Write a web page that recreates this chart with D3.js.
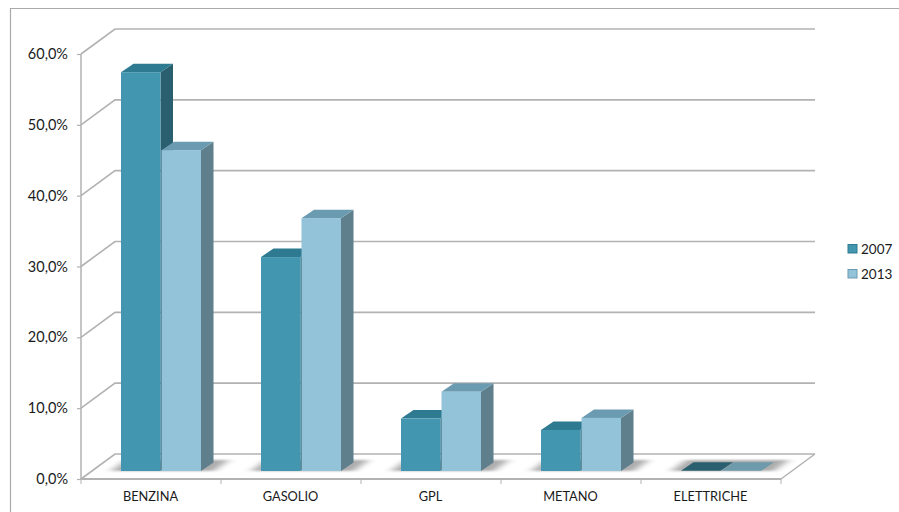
<!DOCTYPE html>
<html><head><meta charset="utf-8">
<script src="https://cdn.jsdelivr.net/npm/d3@7"></script>
<style>html,body{margin:0;padding:0;background:#fff}svg{display:block}text{font-family:Lato,"Noto Sans",sans-serif;fill:#1a1a1a}</style>
</head><body><svg id="c" width="899" height="512"></svg>
<script>
const categories=["BENZINA","GASOLIO","GPL","METANO","ELETTRICHE"];
const seriesNames=["2007","2013"];
const v2007=[56.3,30.2,7.4,5.8,0.05];
const v2013=[45.3,35.7,11.2,7.5,0.05];
const tickLabels=["0,0%","10,0%","20,0%","30,0%","40,0%","50,0%","60,0%"];
const tickValues=[0,10,20,30,40,50,60];

const svg=d3.select("#c");
const defs=svg.append("defs");
const blur=defs.append("filter").attr("id","b").attr("x","-30%").attr("y","-100%").attr("width","160%").attr("height","300%");
blur.append("feGaussianBlur").attr("stdDeviation","5 1.2");
const soft=defs.append("filter").attr("id","s").attr("x","-10%").attr("y","-10%").attr("width","120%").attr("height","120%");
soft.append("feGaussianBlur").attr("stdDeviation","0.45");

const x=d3.scaleBand().domain(categories).range([81,781]);
const y=d3.scaleLinear().domain([0,60]).range([479,54]);
const backDx=34,backDy=-25,barDx=12.5,barDy=-8.5;
const grid="#b2b2b2";
const pts=a=>a.map(p=>p.join(",")).join(" ");
const g=svg.append("g");

// frame
g.append("path").attr("d","M899,8.5H10.5V512").attr("fill","none").attr("stroke","#aaa").attr("stroke-width",1.2);

// floor and walls
tickValues.forEach(t=>{
  const yy=y(t);
  g.append("polyline").attr("points",pts([[81,yy],[81+backDx,yy+backDy],[781+backDx,yy+backDy]]))
   .attr("fill","none").attr("stroke",grid).attr("stroke-width",1.6);
});
g.append("line").attr("x1",781).attr("y1",y(0)).attr("x2",781+backDx).attr("y2",y(0)+backDy).attr("stroke",grid).attr("stroke-width",1.5);
g.append("line").attr("x1",81).attr("x2",781).attr("y1",y(0)).attr("y2",y(0)).attr("stroke",grid).attr("stroke-width",2);
g.append("line").attr("x1",81).attr("x2",81).attr("y1",y(60)).attr("y2",y(0)).attr("stroke",grid).attr("stroke-width",1.5);

// axis ticks and labels
const yAxis=d3.axisLeft(y).tickValues(tickValues).tickSize(4).tickFormat((d,i)=>tickLabels[i]);
const ya=svg.append("g").attr("transform","translate(81,0)").call(yAxis);
ya.select(".domain").remove();
ya.selectAll("line").attr("stroke",grid).attr("stroke-width",1.2);
ya.selectAll("text").attr("font-size",14.5).attr("x",-13).attr("dy","0.32em");

const xAxis=d3.axisBottom(x).tickSizeOuter(0).tickSize(0);
const xa=svg.append("g").attr("transform",`translate(0,${y(0)})`).call(xAxis);
xa.select(".domain").remove();
xa.selectAll("text").attr("font-size",12.8).attr("y",18).attr("dy","0.32em").attr("dx",-0.5);
x.domain().forEach(c=>svg.append("line").attr("x1",x(c)).attr("x2",x(c)).attr("y1",y(0)).attr("y2",y(0)+5).attr("stroke",grid));
svg.append("line").attr("x1",781).attr("x2",781).attr("y1",y(0)).attr("y2",y(0)+5).attr("stroke",grid);

// bars
const colors=[{f:"#4296b0",t:"#2f7a90",s:"#2a5f70"},{f:"#92c3d8",t:"#6b9bb0",s:"#5f7f8c"}];
const flatTop=["#2a5f70","#6e9bab"];
const bx=d3.scaleBand().domain(seriesNames).range([40,120]).paddingInner(0.025);
const base=y(0)-8;
const h=d3.scaleLinear().domain([0,60]).range([0,425]);
const series=[v2007,v2013];
categories.forEach(c=>{
  // floor shadow
  g.append("polygon").attr("points",pts([[x(c)+30,base],[x(c)+45,base-11],[x(c)+148,base-11],[x(c)+133,base]]))
   .attr("fill","#808080").attr("opacity",0.65).attr("filter","url(#b)");
});
const barsG=svg.append("g").attr("filter","url(#s)");
categories.forEach((c,i)=>{
  seriesNames.forEach((n,k)=>{
    const v=series[k][i], L=x(c)+bx(n), w=bx.bandwidth(), R=L+w, T=base-h(v), col=colors[k];
    const flat=v<0.5;
    const b=barsG.append("g").datum(v);
    b.append("polygon").attr("points",pts([[R,T],[R+barDx,T+barDy],[R+barDx,base+barDy],[R,base]])).attr("fill",col.s);
    b.append("polygon").attr("points",pts([[L,T],[L+barDx,T+barDy],[R+barDx,T+barDy],[R,T]])).attr("fill",flat?flatTop[k]:col.t);
    if(!flat) b.append("rect").attr("x",L).attr("y",T).attr("width",w).attr("height",h(v)).attr("fill",col.f);
  });
});

// legend
const leg=svg.append("g");
seriesNames.forEach((n,k)=>{
  const yy=248.5+k*25;
  leg.append("rect").attr("x",848).attr("y",yy-4).attr("width",9).attr("height",8.5).attr("fill",colors[k].f).attr("stroke",colors[k].t).attr("stroke-width",1);
  leg.append("text").attr("x",861).attr("y",yy+.5).attr("dy","0.36em").attr("font-size",13.5).text(n);
});
</script></body></html>
